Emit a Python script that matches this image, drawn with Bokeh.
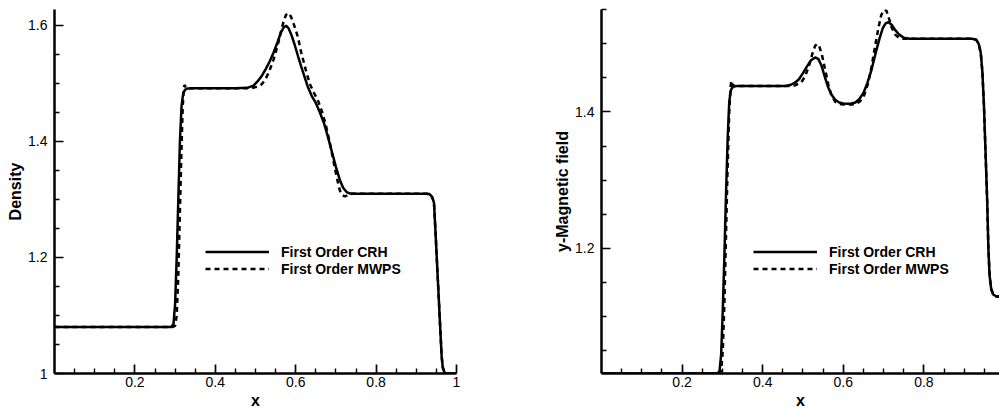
from bokeh.plotting import figure
from bokeh.layouts import row
from bokeh.models import (Range1d, FixedTicker, CustomJSTickFormatter,
                          Legend, LegendItem)
from bokeh.embed import file_html
from bokeh.resources import INLINE

# ---- Density profile ----
x_rho_crh = [0.0, 0.29, 0.296, 0.300, 0.304, 0.308, 0.312, 0.316, 0.320, 0.325,
             0.332, 0.345, 0.40, 0.45, 0.48, 0.495, 0.505, 0.515, 0.525, 0.535,
             0.545, 0.555, 0.563, 0.570, 0.576, 0.582, 0.590, 0.598, 0.606, 0.614,
             0.622, 0.630, 0.640, 0.650, 0.660, 0.670, 0.680, 0.690, 0.700, 0.710,
             0.718, 0.726, 0.735, 0.75, 0.80, 0.90, 0.925, 0.932, 0.936, 0.940,
             0.944, 0.948, 0.952, 0.956, 0.960, 0.963, 0.966, 0.970, 0.975, 1.0]
rho_crh = [1.080, 1.080, 1.085, 1.12, 1.20, 1.30, 1.40, 1.46, 1.482, 1.489,
           1.491, 1.4915, 1.4915, 1.4915, 1.492, 1.496, 1.503, 1.512, 1.524, 1.537,
           1.553, 1.571, 1.587, 1.596, 1.599, 1.595, 1.582, 1.565, 1.546, 1.528,
           1.511, 1.494, 1.478, 1.466, 1.450, 1.432, 1.408, 1.382, 1.356, 1.333,
           1.320, 1.313, 1.310, 1.3096, 1.3096, 1.3096, 1.3095, 1.309, 1.307, 1.303,
           1.294, 1.241, 1.184, 1.128, 1.072, 1.030, 1.010, 1.002, 1.0, 1.0]

x_rho_mwps = [0.0, 0.293, 0.300, 0.304, 0.308, 0.312, 0.316, 0.319, 0.322, 0.324,
              0.327, 0.335, 0.45, 0.49, 0.505, 0.515, 0.525, 0.535, 0.545, 0.555,
              0.563, 0.570, 0.576, 0.582, 0.588, 0.594, 0.600, 0.606, 0.614, 0.625,
              0.635, 0.645, 0.655, 0.665, 0.675, 0.685, 0.695, 0.703, 0.710, 0.716,
              0.722, 0.730, 0.740, 0.80, 0.90, 0.925, 0.932, 0.936, 0.940, 0.944,
              0.948, 0.952, 0.956, 0.960, 0.963, 0.966, 0.970, 0.975, 1.0]
rho_mwps = [1.080, 1.080, 1.082, 1.10, 1.17, 1.28, 1.39, 1.46, 1.494, 1.497,
            1.491, 1.4915, 1.4915, 1.4915, 1.494, 1.498, 1.507, 1.522, 1.541, 1.565,
            1.588, 1.607, 1.618, 1.621, 1.615, 1.604, 1.592, 1.578, 1.552, 1.523,
            1.499, 1.484, 1.471, 1.452, 1.428, 1.397, 1.362, 1.335, 1.315, 1.307,
            1.305, 1.307, 1.3096, 1.3096, 1.3096, 1.3095, 1.309, 1.307, 1.303, 1.294,
            1.241, 1.184, 1.128, 1.072, 1.030, 1.010, 1.002, 1.0, 1.0]

# ---- y-Magnetic field profile ----
x_by_crh = [0.0, 0.288, 0.293, 0.297, 0.301, 0.305, 0.309, 0.313, 0.317, 0.321,
            0.326, 0.335, 0.40, 0.455, 0.47, 0.48, 0.490, 0.500, 0.510, 0.520,
            0.530, 0.538, 0.546, 0.554, 0.562, 0.570, 0.580, 0.590, 0.600, 0.610,
            0.620, 0.630, 0.640, 0.650, 0.660, 0.670, 0.680, 0.690, 0.698, 0.705,
            0.712, 0.720, 0.728, 0.738, 0.750, 0.765, 0.80, 0.92, 0.930, 0.936,
            0.941, 0.945, 0.949, 0.953, 0.957, 0.960, 0.963, 0.967, 0.972, 0.980, 0.99]
by_crh = [1.016, 1.016, 1.02, 1.045, 1.11, 1.19, 1.28, 1.36, 1.415, 1.432,
          1.437, 1.438, 1.438, 1.438, 1.440, 1.443, 1.448, 1.457, 1.467, 1.476,
          1.480, 1.478, 1.468, 1.452, 1.437, 1.426, 1.418, 1.414, 1.4125, 1.412,
          1.4125, 1.414, 1.419, 1.428, 1.443, 1.462, 1.486, 1.508, 1.523, 1.530,
          1.532, 1.528, 1.521, 1.514, 1.509, 1.5076, 1.5076, 1.5076, 1.506, 1.500,
          1.487, 1.46, 1.41, 1.34, 1.27, 1.20, 1.16, 1.14, 1.132, 1.129, 1.129]

x_by_mwps = [0.0, 0.292, 0.297, 0.301, 0.305, 0.309, 0.313, 0.317, 0.320, 0.322,
             0.325, 0.332, 0.46, 0.48, 0.495, 0.505, 0.515, 0.523, 0.530, 0.535,
             0.540, 0.547, 0.555, 0.563, 0.571, 0.580, 0.590, 0.600, 0.620, 0.632,
             0.642, 0.652, 0.661, 0.670, 0.679, 0.687, 0.694, 0.701, 0.707, 0.713,
             0.720, 0.728, 0.738, 0.750, 0.80, 0.92, 0.930, 0.936, 0.941, 0.945,
             0.949, 0.953, 0.957, 0.960, 0.963, 0.967, 0.972, 0.980, 0.99]
by_mwps = [1.016, 1.016, 1.02, 1.05, 1.12, 1.22, 1.32, 1.40, 1.435, 1.446,
           1.440, 1.438, 1.438, 1.439, 1.443, 1.452, 1.468, 1.485, 1.497, 1.500,
           1.497, 1.484, 1.462, 1.440, 1.424, 1.415, 1.412, 1.411, 1.411, 1.412,
           1.416, 1.425, 1.441, 1.466, 1.497, 1.523, 1.542, 1.550, 1.549, 1.538,
           1.524, 1.514, 1.509, 1.5076, 1.5076, 1.5076, 1.506, 1.500, 1.487, 1.46,
           1.41, 1.34, 1.27, 1.20, 1.16, 1.14, 1.132, 1.129, 1.129]

# ---- ticks and labels ----
x_major = [0.2, 0.4, 0.6, 0.8, 1.0]
x_minor = [0.05, 0.1, 0.15, 0.25, 0.3, 0.35, 0.45, 0.5, 0.55, 0.65, 0.7, 0.75,
           0.85, 0.9, 0.95]
rho_major = [1.0, 1.2, 1.4, 1.6]
rho_minor = [1.05, 1.1, 1.15, 1.25, 1.3, 1.35, 1.45, 1.5, 1.55]
by_major = [1.2, 1.4]
by_minor = [1.05, 1.1, 1.15, 1.25, 1.3, 1.35, 1.45, 1.5, 1.55]
legend_labels = ["First Order CRH", "First Order MWPS"]

FONT = "Liberation Sans"
LINE_W = 2.5
DASH = "5 4"
fmt = CustomJSTickFormatter(code="return String(Math.round(tick * 100) / 100);")


def style_axes(p, xt, xm, yt, ym, ylabel):
    p.xaxis.ticker = FixedTicker(ticks=xt, minor_ticks=xm)
    p.yaxis.ticker = FixedTicker(ticks=yt, minor_ticks=ym)
    for ax in (p.xaxis[0], p.yaxis[0]):
        ax.formatter = fmt
        ax.axis_line_width = 2.5
        ax.axis_line_color = "black"
        # ticks point into the frame
        ax.major_tick_in = 9
        ax.major_tick_out = 0
        ax.minor_tick_in = 5
        ax.minor_tick_out = 0
        ax.major_tick_line_width = 1.7
        ax.minor_tick_line_width = 1.4
        ax.major_tick_line_color = "black"
        ax.minor_tick_line_color = "black"
        ax.major_label_text_font = FONT
        ax.major_label_text_font_size = "14px"
        ax.major_label_text_color = "black"
        ax.axis_label_text_font = FONT
        ax.axis_label_text_font_size = "16px"
        ax.axis_label_text_font_style = "bold"
        ax.axis_label_text_color = "black"
    p.xaxis.axis_label = "x"
    p.yaxis.axis_label = ylabel
    p.xaxis.major_label_standoff = 3
    p.xaxis.axis_label_standoff = 2
    p.yaxis.major_label_standoff = 7
    p.yaxis.axis_label_standoff = 1
    p.xgrid.visible = False
    p.ygrid.visible = False
    p.outline_line_color = None


def add_legend(p, r1, r2, x0):
    leg = Legend(items=[LegendItem(label=legend_labels[0], renderers=[r1]),
                        LegendItem(label=legend_labels[1], renderers=[r2])],
                 location=(x0, 96), padding=0, margin=0, spacing=0,
                 glyph_width=64, glyph_height=17, label_height=17,
                 label_standoff=12, border_line_alpha=0,
                 background_fill_alpha=0, label_text_font=FONT,
                 label_text_font_size="14px", label_text_font_style="bold",
                 label_text_color="black")
    p.add_layout(leg)


# Left panel: density
p1 = figure(width=500, height=411, output_backend="svg", toolbar_location=None,
            x_range=Range1d(0, 1), y_range=Range1d(1.0, 1.627),
            min_border_left=54, min_border_right=44, min_border_top=5,
            min_border_bottom=36)
r1a = p1.line(x_rho_crh, rho_crh, line_color="black", line_width=LINE_W)
r1b = p1.line(x_rho_mwps, rho_mwps, line_color="black", line_width=LINE_W,
              line_dash=DASH)
style_axes(p1, x_major, x_minor, rho_major, rho_minor, "Density")
add_legend(p1, r1a, r1b, 151)

# Right panel: y-magnetic field
p2 = figure(width=499, height=411, output_backend="svg", toolbar_location=None,
            x_range=Range1d(0, 0.9876), y_range=Range1d(1.016, 1.5505),
            min_border_left=101, min_border_right=0, min_border_top=9,
            min_border_bottom=36)
r2a = p2.line(x_by_crh, by_crh, line_color="black", line_width=LINE_W)
r2b = p2.line(x_by_mwps, by_mwps, line_color="black", line_width=LINE_W,
              line_dash=DASH)
style_axes(p2, x_major[:-1], x_minor, by_major, by_minor, "y-Magnetic field")
add_legend(p2, r2a, r2b, 152)

layout = row(p1, p2, spacing=0)
open("out.html", "w").write(file_html(layout, INLINE))
